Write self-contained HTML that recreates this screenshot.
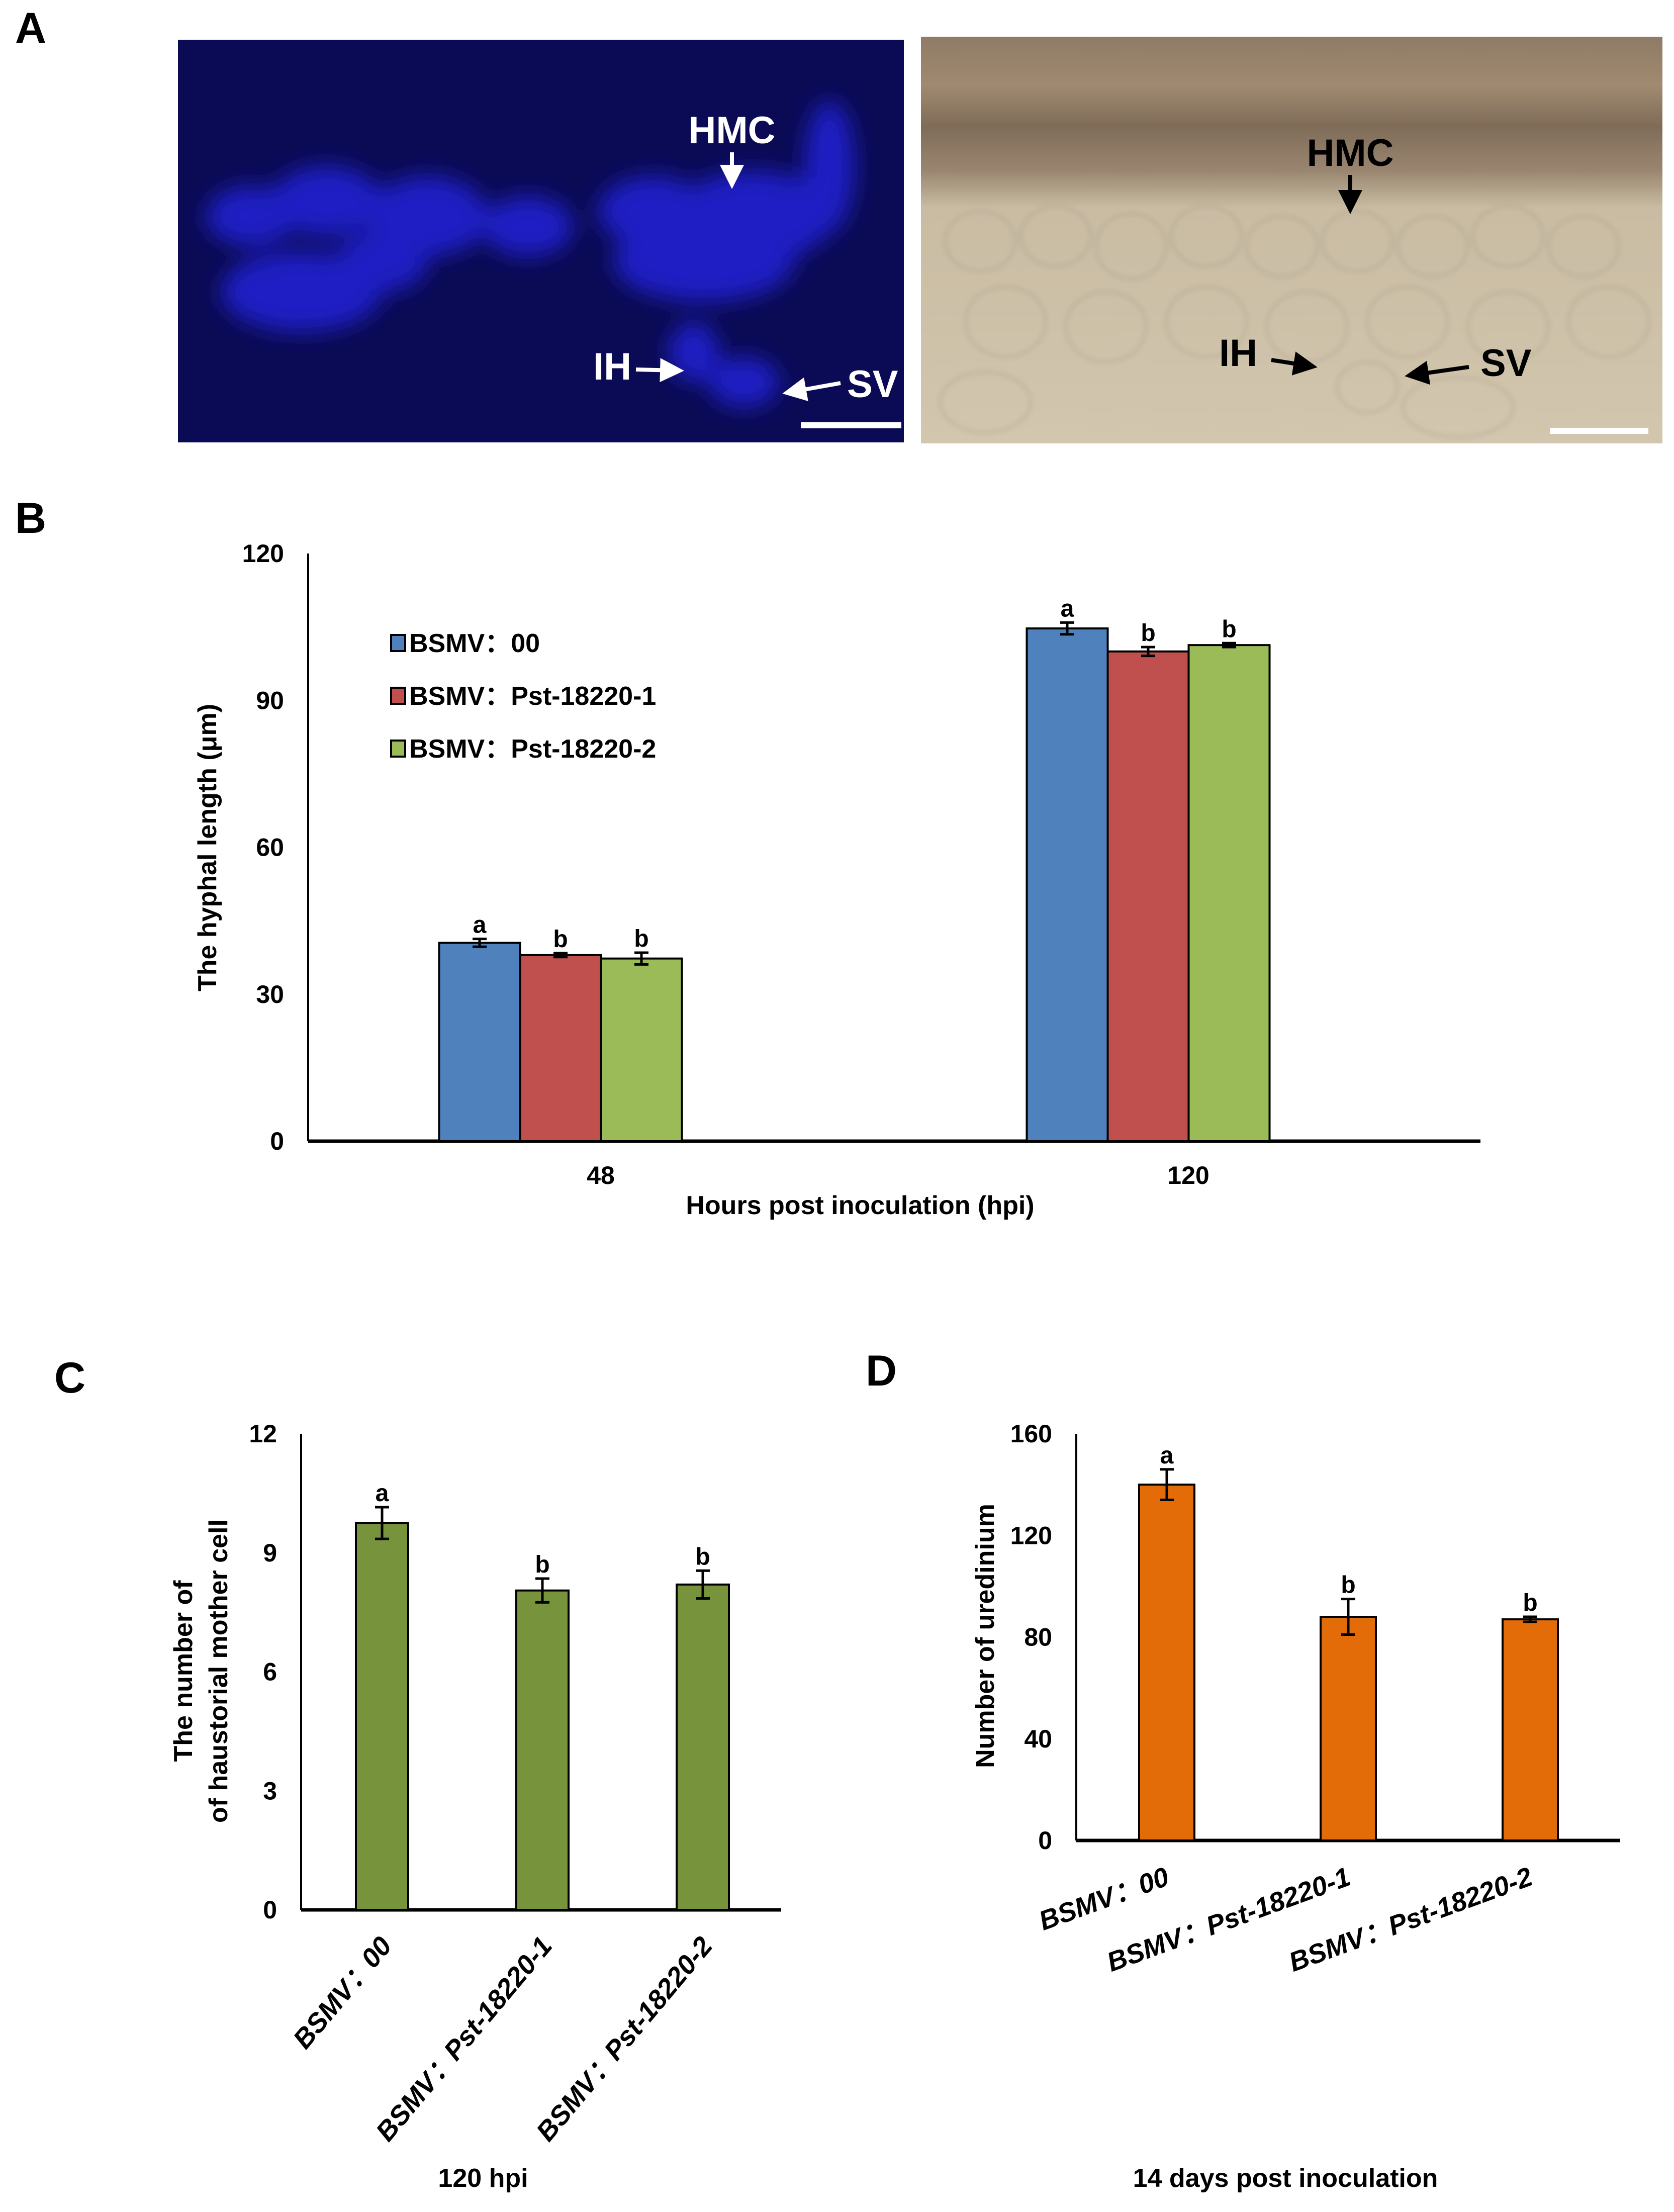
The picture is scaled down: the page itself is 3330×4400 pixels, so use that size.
<!DOCTYPE html>
<html><head><meta charset="utf-8"><style>
html,body{margin:0;padding:0;background:#fff}
svg{display:block}
text{font-family:"Liberation Sans",Arial,sans-serif;font-weight:bold}
</style></head><body>
<svg id="fig" width="3330" height="4400" viewBox="0 0 3330 4400" xmlns="http://www.w3.org/2000/svg">
<defs>
<filter id="blur" x="-20%" y="-20%" width="140%" height="140%"><feGaussianBlur stdDeviation="22"/></filter>
<filter id="blur2"><feGaussianBlur stdDeviation="5"/></filter>
<linearGradient id="bf" x1="0" y1="0" x2="0" y2="1">
<stop offset="0" stop-color="#8f7b66"/><stop offset="0.12" stop-color="#a08a70"/><stop offset="0.22" stop-color="#7f6c58"/><stop offset="0.33" stop-color="#9a8670"/><stop offset="0.42" stop-color="#c9bca3"/><stop offset="1" stop-color="#d2c6ae"/></linearGradient>
<marker id="ahw" markerWidth="6" markerHeight="6" refX="4" refY="3" orient="auto"><path d="M0,0 L6,3 L0,6 z" fill="#fff"/></marker>
<marker id="ahb" markerWidth="6" markerHeight="6" refX="4" refY="3" orient="auto"><path d="M0,0 L6,3 L0,6 z" fill="#000"/></marker>
</defs>

<text x="30" y="85" font-size="86">A</text>
<text x="30" y="1060" font-size="86">B</text>
<text x="108" y="2770" font-size="86">C</text>
<text x="1722" y="2756" font-size="86">D</text>

<g>
<rect x="354" y="79" width="1444" height="801" fill="#0b0b55"/>
<g filter="url(#blur)" fill="#2424d8" opacity="0.85">
<ellipse cx="500" cy="430" rx="90" ry="60"/><ellipse cx="650" cy="400" rx="110" ry="70"/>
<ellipse cx="850" cy="430" rx="120" ry="80"/><ellipse cx="1050" cy="450" rx="90" ry="60"/>
<ellipse cx="1300" cy="420" rx="110" ry="70"/><ellipse cx="1500" cy="430" rx="160" ry="90"/>
<ellipse cx="1650" cy="330" rx="50" ry="130"/><ellipse cx="600" cy="580" rx="160" ry="80"/>
<ellipse cx="1400" cy="520" rx="180" ry="80"/><ellipse cx="1380" cy="700" rx="50" ry="60"/>
<ellipse cx="1480" cy="760" rx="70" ry="50"/><ellipse cx="760" cy="520" rx="90" ry="60"/>
</g>
</g>
<g fill="#fff">
<text x="1456" y="285" font-size="76" text-anchor="middle">HMC</text>
<line x1="1456" y1="303" x2="1456" y2="360" stroke="#fff" stroke-width="8" marker-end="url(#ahw)"/>
<text x="1180" y="755" font-size="76">IH</text>
<line x1="1265" y1="735" x2="1345" y2="737" stroke="#fff" stroke-width="8" marker-end="url(#ahw)"/>
<text x="1685" y="790" font-size="76">SV</text>
<line x1="1672" y1="762" x2="1572" y2="780" stroke="#fff" stroke-width="8" marker-end="url(#ahw)"/>
<rect x="1593" y="840" width="200" height="12" fill="#fff"/>
</g>

<g>
<rect x="1832" y="73" width="1475" height="809" fill="url(#bf)"/>
<g fill="none" stroke="#8d8070" stroke-width="4" opacity="0.3" filter="url(#blur2)">
<ellipse cx="1950" cy="480" rx="70" ry="60"/><ellipse cx="2100" cy="470" rx="70" ry="60"/>
<ellipse cx="2250" cy="490" rx="70" ry="65"/><ellipse cx="2400" cy="470" rx="70" ry="60"/>
<ellipse cx="2550" cy="490" rx="70" ry="60"/><ellipse cx="2700" cy="480" rx="70" ry="60"/>
<ellipse cx="2850" cy="490" rx="70" ry="60"/><ellipse cx="3000" cy="470" rx="70" ry="60"/>
<ellipse cx="3150" cy="490" rx="70" ry="60"/><ellipse cx="2000" cy="640" rx="80" ry="70"/>
<ellipse cx="2200" cy="650" rx="80" ry="70"/><ellipse cx="2400" cy="640" rx="80" ry="70"/>
<ellipse cx="2600" cy="650" rx="80" ry="70"/><ellipse cx="2800" cy="640" rx="80" ry="70"/>
<ellipse cx="3000" cy="650" rx="80" ry="70"/><ellipse cx="3200" cy="640" rx="80" ry="70"/>
<ellipse cx="1960" cy="800" rx="90" ry="60"/><ellipse cx="2720" cy="770" rx="60" ry="50"/>
<ellipse cx="2900" cy="810" rx="110" ry="60"/>
</g>
</g>
<g fill="#000">
<text x="2686" y="330" font-size="76" text-anchor="middle">HMC</text>
<line x1="2686" y1="348" x2="2686" y2="410" stroke="#000" stroke-width="8" marker-end="url(#ahb)"/>
<text x="2425" y="728" font-size="76">IH</text>
<line x1="2529" y1="716" x2="2605" y2="728" stroke="#000" stroke-width="8" marker-end="url(#ahb)"/>
<text x="2945" y="748" font-size="76">SV</text>
<line x1="2922" y1="730" x2="2810" y2="746" stroke="#000" stroke-width="8" marker-end="url(#ahb)"/>
<rect x="3083" y="851" width="196" height="12" fill="#fff"/>
</g>

<g id="chartB"></g>
<g id="chartC"></g>
<g id="chartD"></g>
</svg>
<script>
const NS = "http://www.w3.org/2000/svg";
// ---- Chart B data ----
const bGroups = ["48", "120"];
const bSeries = ["BSMV：00", "BSMV：Pst-18220-1", "BSMV：Pst-18220-2"];
const bColors = ["#4f81bd", "#c0504d", "#9bbb59"];
const bVals00 = [40.5, 104.7];
const bVals1 = [38.0, 100.0];
const bVals2 = [37.3, 101.3];
const bErr00 = [0.8, 1.2];
const bErr1 = [0.4, 0.9];
const bErr2 = [1.2, 0.4];
const bLetters00 = ["a", "a"];
const bLetters1 = ["b", "b"];
const bLetters2 = ["b", "b"];
const bTicks = [0, 30, 60, 90, 120];
// ---- Chart C data ----
const cCats = ["BSMV：00", "BSMV：Pst-18220-1", "BSMV：Pst-18220-2"];
const cVals = [9.75, 8.05, 8.2];
const cErr = [0.4, 0.3, 0.35];
const cLetters = ["a", "b", "b"];
const cTicks = [0, 3, 6, 9, 12];
// ---- Chart D data ----
const dCats = ["BSMV：00", "BSMV：Pst-18220-1", "BSMV：Pst-18220-2"];
const dVals = [140, 88, 87];
const dErr = [6, 7, 1];
const dLetters = ["a", "b", "b"];
const dTicks = [0, 40, 80, 120, 160];

function el(parent, tag, attrs, txt) {
  const e = document.createElementNS(NS, tag);
  for (const k in attrs) e.setAttribute(k, attrs[k]);
  if (txt !== undefined) e.textContent = txt;
  parent.appendChild(e);
  return e;
}
function axes(g, x0, x1, y0, y1, ticks, maxV) {
  const ys = v => y0 - (v / maxV) * (y0 - y1);
  const ya = el(g, "line", {x1: x0, y1: y1, x2: x0, y2: y0, stroke: "#000", "stroke-width": 4});
  
  
  const xa = el(g, "line", {x1: x0, y1: y0, x2: x1, y2: y0, stroke: "#000", "stroke-width": 7});
  
  
  ticks.forEach(t => {
    const tl = el(g, "text", {x: x0 - 48, y: ys(t) + 17, "font-size": 50, "text-anchor": "end"}, t);
    
    
  });
  return ys;
}
function bar(g, x, w, v, e, letter, ys, color, name) {
  const y0 = ys(0), yv = ys(v);
  const r = el(g, "rect", {x: x, y: yv, width: w, height: y0 - yv, fill: color, stroke: "#000", "stroke-width": 4});
  
  
  const cx = x + w / 2, yt = ys(v + e), yb = ys(v - e);
  const eb = el(g, "path", {d: `M${cx},${yt}V${yb}M${cx-14},${yt}H${cx+14}M${cx-14},${yb}H${cx+14}`, stroke: "#000", "stroke-width": 5, fill: "none"});
  
  
  const lt = el(g, "text", {x: cx, y: yt - 12, "font-size": 48, "text-anchor": "middle"}, letter);
  
  
}

// Chart B
(function(){
  const g = document.getElementById("chartB");
  const x0 = 613, x1 = 2945, y0 = 2270, y1 = 1101;
  const ys = axes(g, x0, x1, y0, y1, bTicks, 120);
  const centers = [1115, 2284], bw = 161;
  const vals = [bVals00, bVals1, bVals2], errs = [bErr00, bErr1, bErr2], lets = [bLetters00, bLetters1, bLetters2];
  bGroups.forEach((grp, gi) => {
    vals.forEach((s, si) => {
      bar(g, centers[gi] + (si - 1.5) * bw, bw, s[gi], errs[si][gi], lets[si][gi], ys, bColors[si], 'bar-' + grp + '-' + si);
    });
    const cl = el(g, "text", {x: centers[gi] + 80, y: 2355, "font-size": 50, "text-anchor": "middle"}, grp);
    
    
  });
  bSeries.forEach((s, i) => {
    const yy = 1279 + i * 105;
    const sw = el(g, "rect", {x: 778, y: yy - 16, width: 28, height: 32, fill: bColors[i], stroke: "#000", "stroke-width": 4});
    
    
    const lt = el(g, "text", {x: 814, y: yy + 18, "font-size": 52}, s);
    
    
  });
  const xt = el(g, "text", {x: 1711, y: 2415, "font-size": 52, "text-anchor": "middle"}, "Hours post inoculation (hpi)");
  
  
  const yt = el(g, "text", {x: 0, y: 0, "font-size": 52, "text-anchor": "middle", transform: "translate(430,1686) rotate(-90)"}, "The hyphal length (μm)");
  
  
})();

// Chart C
(function(){
  const g = document.getElementById("chartC");
  const x0 = 599, x1 = 1554, y0 = 3799, y1 = 2852;
  const ys = axes(g, x0, x1, y0, y1, cTicks, 12);
  const centers = [760, 1079, 1398], bw = 104;
  cCats.forEach((c, i) => {
    bar(g, centers[i] - bw / 2, bw, cVals[i], cErr[i], cLetters[i], ys, "#77933c", 'bar-c-' + i);
    const lab = el(g, "text", {x: 0, y: 0, "font-size": 54, "font-style": "italic", "text-anchor": "end", transform: `translate(${centers[i] + 22},${3872}) rotate(-50)`}, c);
    
    
  });
  const xt = el(g, "text", {x: 961, y: 4350, "font-size": 52, "text-anchor": "middle"}, "120 hpi");
  
  
  const yt = el(g, "text", {x: 0, y: 0, "font-size": 52, "text-anchor": "middle", transform: "translate(382,3324) rotate(-90)"}, "The number of");
  
  
  const yt2 = el(g, "text", {x: 0, y: 0, "font-size": 52, "text-anchor": "middle", transform: "translate(452,3324) rotate(-90)"}, "of haustorial mother cell");
  
  
})();

// Chart D
(function(){
  const g = document.getElementById("chartD");
  const x0 = 2141, x1 = 3223, y0 = 3661, y1 = 2852;
  const ys = axes(g, x0, x1, y0, y1, dTicks, 160);
  const centers = [2321, 2682, 3044], bw = 110;
  dCats.forEach((c, i) => {
    bar(g, centers[i] - bw / 2, bw, dVals[i], dErr[i], dLetters[i], ys, "#e36c09", 'bar-d-' + i);
    const lab = el(g, "text", {x: 0, y: 0, "font-size": 54, "font-style": "italic", "text-anchor": "end", transform: `translate(${centers[i] + 8},${3748}) rotate(-20)`}, c);
    
    
  });
  const xt = el(g, "text", {x: 2557, y: 4350, "font-size": 52, "text-anchor": "middle"}, "14 days post inoculation");
  
  
  const yt = el(g, "text", {x: 0, y: 0, "font-size": 52, "text-anchor": "middle", transform: "translate(1977,3254) rotate(-90)"}, "Number of uredinium");
  
  
})();
</script>
</body></html>
